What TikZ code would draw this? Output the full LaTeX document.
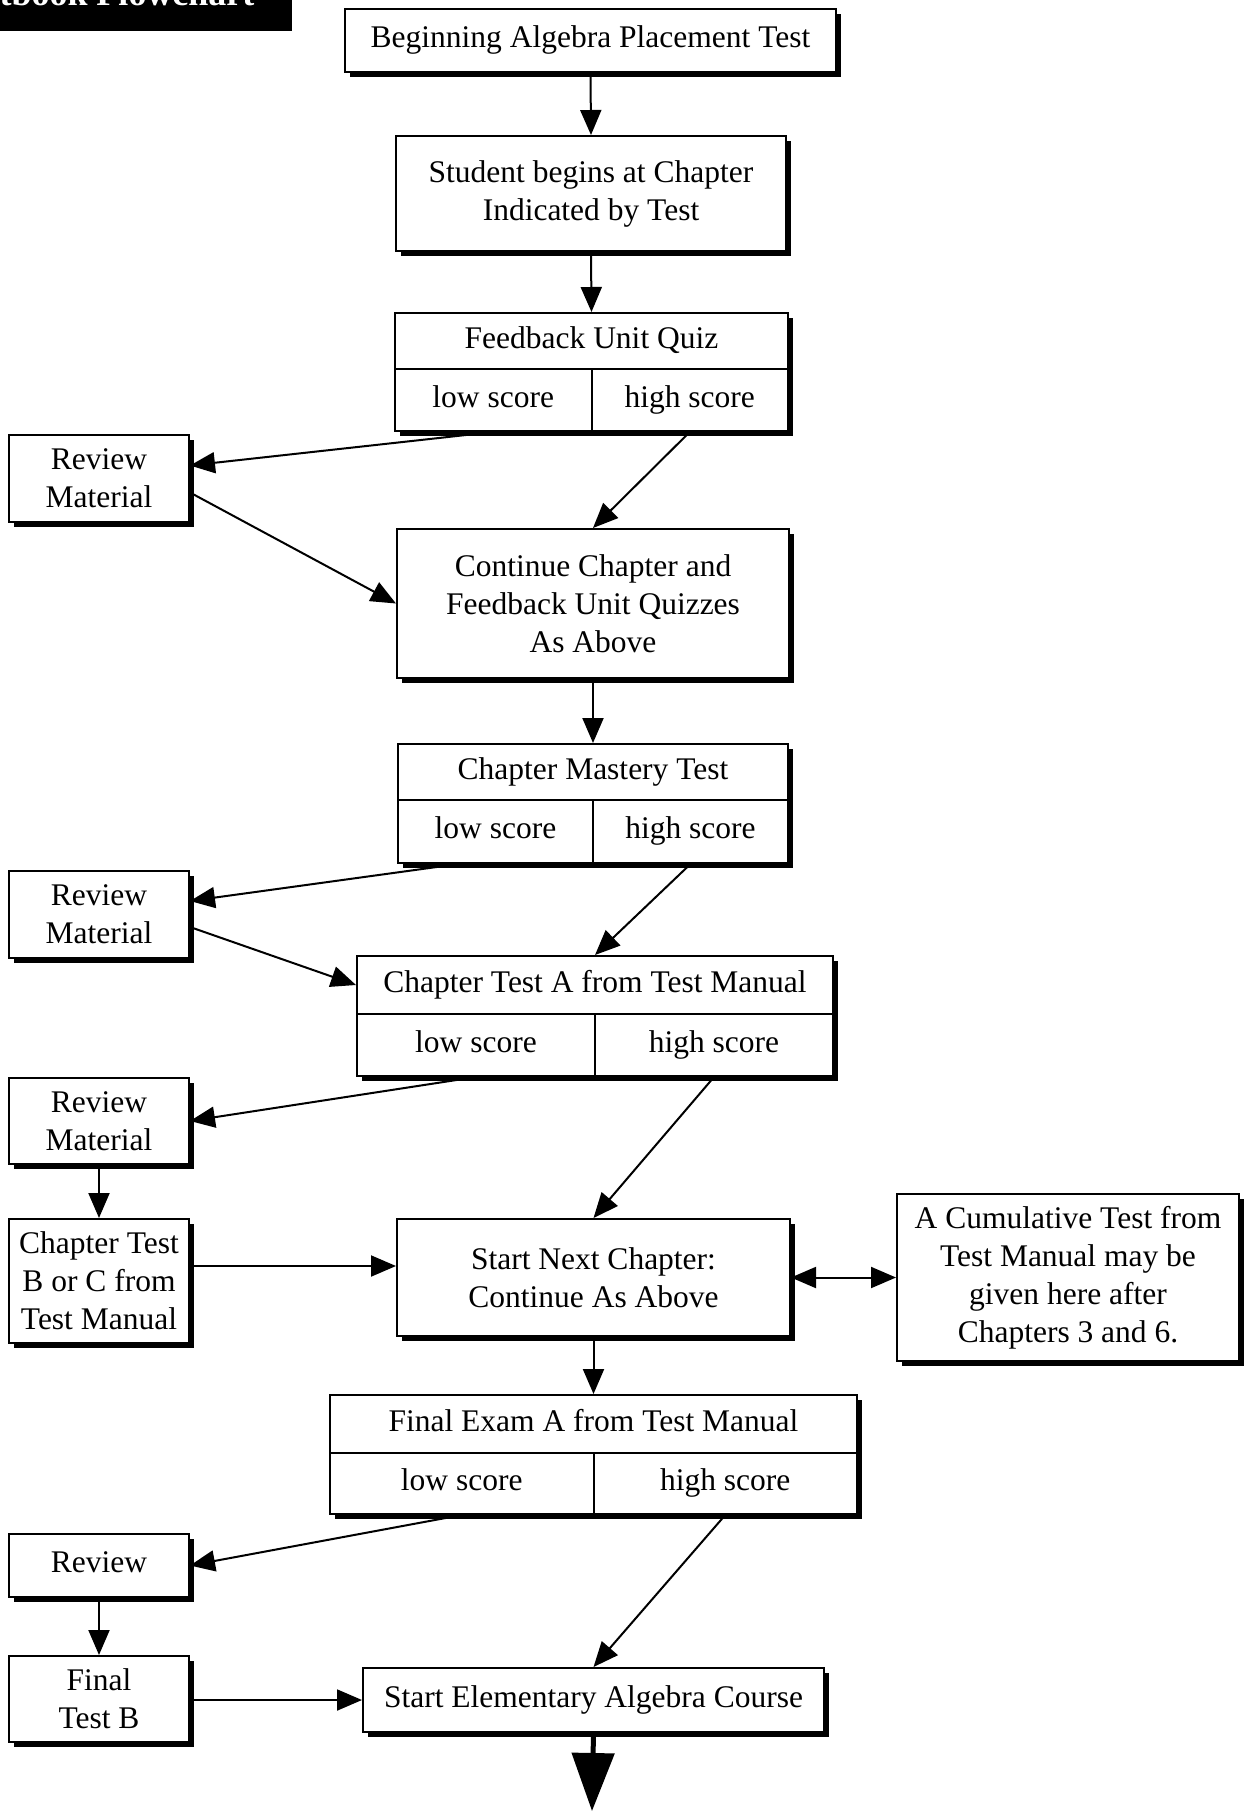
\documentclass[tikz,border=0pt]{standalone}
\usepackage{fontspec}
\setmainfont{Liberation Serif}
\usetikzlibrary{arrows.meta,shadows}

\begin{document}
\begin{tikzpicture}[x=1pt, y=1pt,
        every node/.style={font=\fontsize{31.5}{38}\selectfont},
        box/.style={draw, line width=2pt, fill=white, inner sep=0pt, align=center, anchor=north west,
            drop shadow={shadow xshift=5pt, shadow yshift=-5pt, fill=black, opacity=1}},
        part/.style={box, text height=21pt, text depth=7pt},
        arr/.style={line width=2pt, -{Triangle[length=25pt, width=21pt]}},
        dblarr/.style={line width=2pt, {Triangle[length=25pt, width=21pt]}-{Triangle[length=25pt, width=21pt]}}]

        % Page size
        \useasboundingbox (0, 0) rectangle (1244, -1811);
        \clip (0, 0) rectangle (1244, -1811);

        % Title bar (cut by the page edge)
        \fill (0, 0) rectangle (292, -31);
        \node[anchor=base east, text=white, font=\fontsize{36}{40}\selectfont\bfseries] (title) at (258, -6) {Textbook Flowchart};

        % Main column
        \node[part, minimum width=491, minimum height=63] (placement) at (344, -8) {Beginning Algebra Placement Test};
        \node[box, minimum width=390, minimum height=115] (start) at (395, -135) {Student begins at Chapter\\Indicated by Test};

        \node[part, minimum width=393, minimum height=56] (quiz) at (394, -312) {Feedback Unit Quiz};
        \node[part, minimum width=196.5, minimum height=62] (quizlow) at (394, -368) {low score};
        \node[part, minimum width=196.5, minimum height=62] (quizhigh) at (590.5, -368) {high score};

        \node[box, minimum width=392, minimum height=149] (cont) at (396, -528) {Continue Chapter and\\Feedback Unit Quizzes\\As Above};

        \node[part, minimum width=390, minimum height=56] (mastery) at (397, -743) {Chapter Mastery Test};
        \node[part, minimum width=195, minimum height=63] (mastlow) at (397, -799) {low score};
        \node[part, minimum width=195, minimum height=63] (masthigh) at (592, -799) {high score};

        \node[part, minimum width=476, minimum height=58] (testA) at (356, -955) {Chapter Test A from Test Manual};
        \node[part, minimum width=238, minimum height=62] (testAlow) at (356, -1013) {low score};
        \node[part, minimum width=238, minimum height=62] (testAhigh) at (594, -1013) {high score};

        \node[box, minimum width=393, minimum height=117] (nextch) at (396, -1218) {Start Next Chapter:\\Continue As Above};

        \node[part, minimum width=527, minimum height=58] (final) at (329, -1394) {Final Exam A from Test Manual};
        \node[part, minimum width=263.5, minimum height=61] (finallow) at (329, -1452) {low score};
        \node[part, minimum width=263.5, minimum height=61] (finalhigh) at (592.5, -1452) {high score};

        \node[part, minimum width=461, minimum height=64] (elem) at (362, -1667) {Start Elementary Algebra Course};

        % Side boxes
        \node[box, minimum width=180, minimum height=87] (review1) at (8, -434) {Review\\Material};
        \node[box, minimum width=180, minimum height=87] (review2) at (8, -870) {Review\\Material};
        \node[box, minimum width=180, minimum height=86] (review3) at (8, -1077) {Review\\Material};
        \node[box, minimum width=180, minimum height=124] (testBC) at (8, -1218) {Chapter Test\\B or C from\\Test Manual};
        \node[part, minimum width=180, minimum height=63] (review4) at (8, -1533) {Review};
        \node[box, minimum width=180, minimum height=86] (testB) at (8, -1655) {Final\\Test B};
        \node[box, minimum width=342, minimum height=167] (cumul) at (896, -1193) {A Cumulative Test from\\Test Manual may be\\given here after\\Chapters 3 and 6.};

        % Arrows down the main column
        \draw[arr] (placement.south) -- (start.north);
        \draw[arr] (start.south) -- (quiz.north);
        \draw[arr] (cont.south) -- (mastery.north);
        \draw[arr] (nextch.south) -- (final.north);

        % Low and high score branches
        \draw[arr] (quizlow.south) -- ([yshift=13pt]review1.east);
        \draw[arr] (quizhigh.south) -- (cont.north);
        \draw[arr] ([yshift=-14pt]review1.east) -- (cont.west);

        \draw[arr] ([xshift=-37pt]mastlow.south) -- ([yshift=13.5pt]review2.east);
        \draw[arr] (masthigh.south) -- (testA.north);
        \draw[arr] ([yshift=-12.5pt]review2.east) -- (testA.west);

        \draw[arr] (testAlow.south) -- (review3.east);
        \draw[arr] (testAhigh.south) -- (nextch.north);
        \draw[arr] (review3.south) -- (testBC.north);
        \draw[arr] ([yshift=15pt]testBC.east) -- ([yshift=11.5pt]nextch.west);
        \draw[dblarr] (nextch.east) -- (cumul.west);

        \draw[arr] (finallow.south) -- (review4.east);
        \draw[arr] (finalhigh.south) -- (elem.north);
        \draw[arr] (review4.south) -- (testB.north);
        \draw[arr] ([yshift=-1pt]testB.east) -- (elem.west);

        % Exit arrow
        \coordinate (out) at (592, -1811);
        \draw[line width=5pt, -{Triangle[length=58pt, width=42pt]}] (elem.south) -- (out);
    \end{tikzpicture}
\end{document}
